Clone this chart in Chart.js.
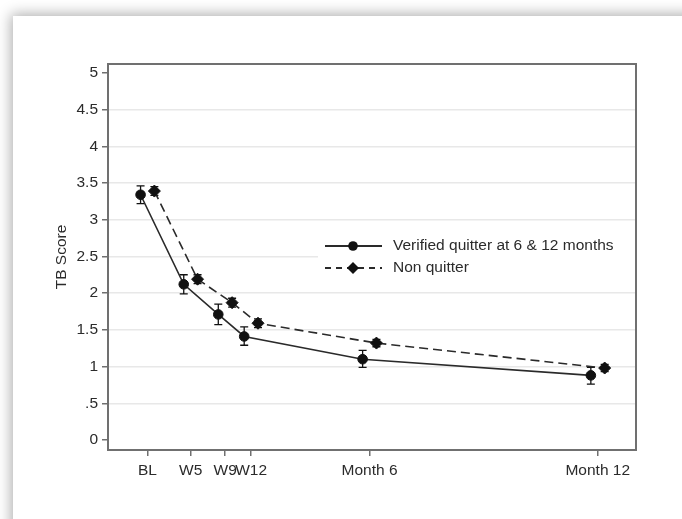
<!DOCTYPE html>
<html>
<head>
<meta charset="utf-8">
<script src="https://cdn.jsdelivr.net/npm/chart.js@4.4.1/dist/chart.umd.min.js"></script>
<style>
  html, body { margin: 0; padding: 0; background: #ffffff; overflow: hidden; }
  #card { position: absolute; left: 13px; top: 16px; width: 720px; height: 560px; background: #fff;
          box-shadow: 0 0 13px 2px rgba(0,0,0,0.32); }
  #wrap { position: absolute; left: 0; top: 0; width: 682px; height: 519px; }
</style>
</head>
<body>
<div id="card"></div>
<div id="wrap"><canvas id="c" width="682" height="519"></canvas></div>
<script>
// ---- data ----
const timeDays = [0, 35, 63, 84, 180, 365];
const tickLabels = ['BL', 'W5', 'W9', 'W12', 'Month 6', 'Month 12'];
const yTicks = [0, 0.5, 1, 1.5, 2, 2.5, 3, 3.5, 4, 4.5, 5];
const yTickLabels = ['0', '.5', '1', '1.5', '2', '2.5', '3', '3.5', '4', '4.5', '5'];
const quitterMean = [3.34, 2.12, 1.71, 1.41, 1.10, 0.88];
const quitterLow  = [3.22, 1.99, 1.57, 1.29, 0.99, 0.76];
const quitterHigh = [3.46, 2.25, 1.85, 1.54, 1.22, 0.99];
const nonQuitterMean = [3.39, 2.19, 1.87, 1.59, 1.32, 0.98];
const nonQuitterLow  = [3.33, 2.13, 1.81, 1.53, 1.27, 0.93];
const nonQuitterHigh = [3.45, 2.25, 1.93, 1.65, 1.37, 1.03];
const seriesLabels = ['Verified quitter at 6 & 12 months', 'Non quitter'];
const dodgeDays = 5.6;

const FONT = 'Liberation Sans, Arial, sans-serif';
const TXT = '#2b2b2b';
const FS = 15.5;

function pts(means, shift) {
  return means.map((v, i) => ({ x: timeDays[i] + shift, y: v }));
}

const errorBars = {
  id: 'errorBars',
  beforeDatasetsDraw(chart) {
    const ctx = chart.ctx;
    const xs = chart.scales.x, ys = chart.scales.y;
    chart.data.datasets.forEach((ds) => {
      ctx.save();
      ctx.strokeStyle = '#111';
      ctx.lineWidth = 1.3;
      ds.data.forEach((p, i) => {
        const px = xs.getPixelForValue(p.x);
        const lo = ys.getPixelForValue(ds.errLow[i]);
        const hi = ys.getPixelForValue(ds.errHigh[i]);
        ctx.beginPath();
        ctx.moveTo(px, lo); ctx.lineTo(px, hi);
        ctx.moveTo(px - 4, lo); ctx.lineTo(px + 4, lo);
        ctx.moveTo(px - 4, hi); ctx.lineTo(px + 4, hi);
        ctx.stroke();
      });
      ctx.restore();
    });
  }
};

const frameAndLegend = {
  id: 'frameAndLegend',
  beforeDatasetsDraw(chart) {
    const ctx = chart.ctx;
    const a = chart.chartArea;
    ctx.save();
    // legend background box
    ctx.fillStyle = '#fff';
    ctx.fillRect(318, 233, a.right - 318, 48);
    // frame
    ctx.strokeStyle = '#707070';
    ctx.lineWidth = 2;
    ctx.strokeRect(a.left, a.top, a.right - a.left, a.bottom - a.top);
    // legend items
    const rows = [246, 268];
    chart.data.datasets.forEach((ds, i) => {
      const y = rows[i];
      ctx.strokeStyle = ds.borderColor;
      ctx.lineWidth = 1.8;
      ctx.setLineDash(ds.pointStyle === 'rectRot' ? [6, 5] : []);
      ctx.beginPath();
      ctx.moveTo(325, y); ctx.lineTo(382, y);
      ctx.stroke();
      ctx.setLineDash([]);
      ctx.fillStyle = '#111';
      ctx.beginPath();
      if (ds.pointStyle === 'rectRot') {
        const r = 6;
        ctx.moveTo(353, y - r); ctx.lineTo(353 + r, y); ctx.lineTo(353, y + r); ctx.lineTo(353 - r, y);
        ctx.closePath();
      } else {
        ctx.arc(353, y, 4.8, 0, Math.PI * 2);
      }
      ctx.fill();
      ctx.fillStyle = TXT;
      ctx.font = FS + 'px ' + FONT;
      ctx.textBaseline = 'middle';
      ctx.textAlign = 'left';
      ctx.fillText(ds.label, 393, y);
    });
    ctx.restore();
  }
};

new Chart(document.getElementById('c'), {
  type: 'scatter',
  data: {
    datasets: [
      {
        label: seriesLabels[0],
        data: pts(quitterMean, -dodgeDays),
        errLow: quitterLow, errHigh: quitterHigh,
        showLine: true,
        borderColor: '#2a2a2a',
        borderWidth: 1.6,
        pointStyle: 'circle',
        pointRadius: 4.8,
        pointBackgroundColor: '#111',
        pointBorderColor: '#111',
        pointBorderWidth: 1
      },
      {
        label: seriesLabels[1],
        data: pts(nonQuitterMean, dodgeDays),
        errLow: nonQuitterLow, errHigh: nonQuitterHigh,
        showLine: true,
        borderColor: '#2a2a2a',
        borderWidth: 1.6,
        borderDash: [9, 5],
        pointStyle: 'rectRot',
        pointRadius: 6,
        pointBackgroundColor: '#111',
        pointBorderColor: '#111',
        pointBorderWidth: 1
      }
    ]
  },
  options: {
    responsive: false,
    animation: false,
    devicePixelRatio: 1,
    layout: { padding: { left: 0, top: 64, right: 46, bottom: 19 } },
    plugins: { legend: { display: false }, tooltip: { enabled: false } },
    scales: {
      x: {
        type: 'linear',
        min: -32, max: 396,
        afterBuildTicks: (s) => { s.ticks = timeDays.map(v => ({ value: v })); },
        afterFit: (s) => { s.height = 50; },
        ticks: {
          autoSkip: false, maxRotation: 0, minRotation: 0,
          padding: 5,
          color: TXT,
          font: { family: FONT, size: FS },
          callback: (v, i) => tickLabels[i]
        },
        grid: { drawOnChartArea: false, tickLength: 6, tickColor: '#707070', lineWidth: 1.5 },
        border: { display: true, color: '#707070', width: 2 }
      },
      y: {
        type: 'linear',
        min: -0.136, max: 5.12,
        afterBuildTicks: (s) => { s.ticks = yTicks.map(v => ({ value: v })); },
        afterFit: (s) => { s.width = 108; },
        ticks: {
          padding: 4,
          color: TXT,
          font: { family: FONT, size: FS },
          callback: (v, i) => yTickLabels[i]
        },
        grid: {
          color: (c) => (c.tick && (c.tick.value === 0 || c.tick.value === 5)) ? 'rgba(0,0,0,0)' : '#e8e8e8',
          lineWidth: 1.5,
          tickLength: 6,
          tickColor: '#707070'
        },
        border: { display: true, color: '#707070', width: 2 },
        title: {
          display: true,
          text: 'TB Score',
          color: TXT,
          font: { family: FONT, size: FS },
          padding: { top: 52, bottom: 0 }
        }
      }
    }
  },
  plugins: [frameAndLegend, errorBars]
});
</script>
</body>
</html>
